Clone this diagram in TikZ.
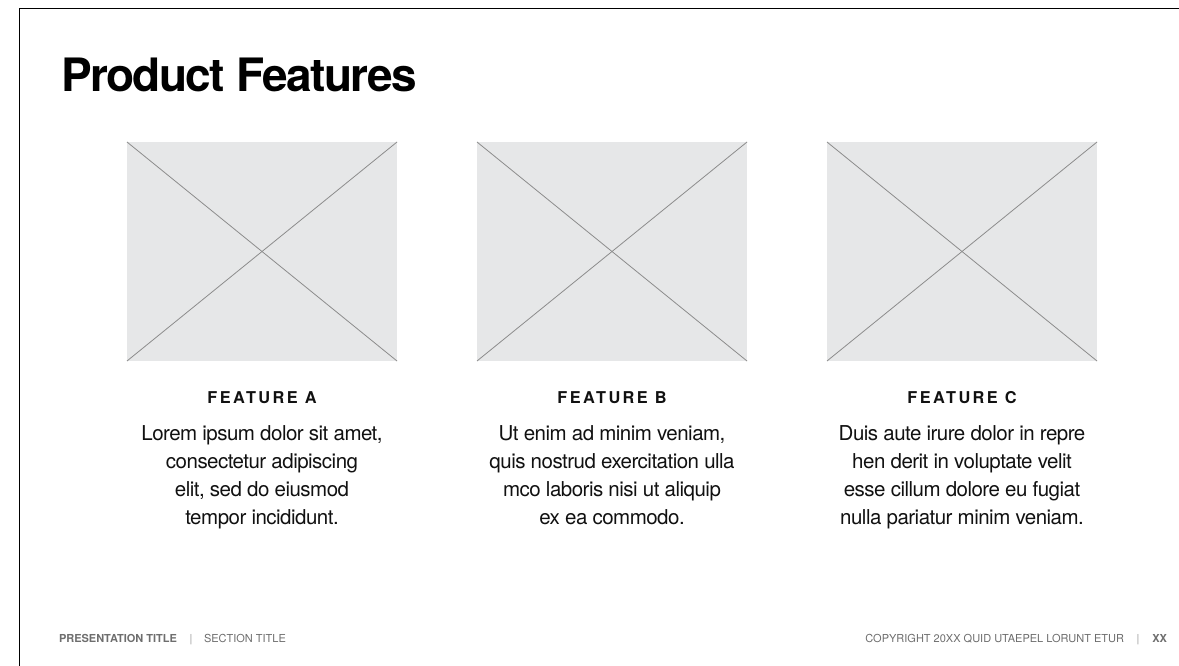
\documentclass[tikz,border=0pt]{standalone}
\usepackage{fontspec}
\setmainfont{TeX Gyre Heros}
\definecolor{phfill}{HTML}{E6E7E8}
\definecolor{crossgray}{HTML}{8C8C8C}
\definecolor{foot}{HTML}{6E6E6E}
\definecolor{sepgray}{HTML}{9A9A9A}
\definecolor{ink}{HTML}{111111}
\begin{document}
\begin{tikzpicture}[x=1pt,y=-1pt,
  every node/.style={inner sep=0pt, outer sep=0pt},
  placeholder/.style={fill=phfill, draw=none, minimum width=270pt, minimum height=219pt},
  cross/.style={draw=crossgray, line width=0.8pt},
  frameline/.style={draw=black, line width=1.6pt},
  heading/.style={anchor=base west, text=black, font=\fontsize{46}{50}\selectfont\bfseries\addfontfeature{LetterSpace=-3.5}},
  featlabel/.style={anchor=base, text=ink, font=\fontsize{16.3}{18}\selectfont\bfseries\addfontfeature{LetterSpace=15}},
  bodyline/.style={anchor=base, text=ink, font=\fontsize{20.5}{24}\selectfont\addfontfeature{LetterSpace=-2.5}},
  footbold/.style={text=foot, font=\fontsize{11}{13}\selectfont\bfseries},
  footreg/.style={text=foot, font=\fontsize{11}{13}\selectfont},
  footsep/.style={anchor=base, text=sepgray, font=\fontsize{11}{13}\selectfont}]
\useasboundingbox (0,0) rectangle (1179,666);
\fill[white] (0,0) rectangle (1179,666);

% outer frame (top and left edges)
\coordinate (fa) at (19.5,666);
\coordinate (fb) at (19.5,8.5);
\coordinate (fc) at (1179,8.5);
\draw[frameline] (fa) -- (fb) -- (fc);

% title
\node[heading] (title) at (61,92) {Product Features};

% image placeholders
\node[placeholder] (imgA) at (262,251.5) {};
\node[placeholder] (imgB) at (612,251.5) {};
\node[placeholder] (imgC) at (962,251.5) {};
\foreach \im in {imgA,imgB,imgC}{
  \draw[cross] (\im.north west) -- (\im.south east);
  \draw[cross] (\im.south west) -- (\im.north east);
}

% feature A
\node[featlabel] (labA) at (262,403) {FEATURE A};
\node[bodyline] (a1) at (262,440.5) {Lorem ipsum dolor sit amet,};
\node[bodyline] (a2) at (262,468.5) {consectetur adipiscing};
\node[bodyline] (a3) at (262,496.5) {elit, sed do eiusmod};
\node[bodyline] (a4) at (262,524.5) {tempor incididunt.};

% feature B
\node[featlabel] (labB) at (612,403) {FEATURE B};
\node[bodyline] (b1) at (612,440.5) {Ut enim ad minim veniam,};
\node[bodyline] (b2) at (612,468.5) {quis nostrud exercitation ulla};
\node[bodyline] (b3) at (612,496.5) {mco laboris nisi ut aliquip};
\node[bodyline] (b4) at (612,524.5) {ex ea commodo.};

% feature C
\node[featlabel] (labC) at (962,403) {FEATURE C};
\node[bodyline] (c1) at (962,440.5) {Duis aute irure dolor in repre};
\node[bodyline] (c2) at (962,468.5) {hen derit in voluptate velit};
\node[bodyline] (c3) at (962,496.5) {esse cillum dolore eu fugiat};
\node[bodyline] (c4) at (962,524.5) {nulla pariatur minim veniam.};

% footer, left
\node[footbold, anchor=base west] (ptitle) at (59,642) {PRESENTATION TITLE};
\node[footsep] (sepL) at (191,642) {|};
\node[footreg, anchor=base west] (stitle) at (204,642) {SECTION TITLE};

% footer, right
\node[footbold, anchor=base east] (pnum) at (1167,642) {XX};
\node[footsep] (sepR) at (1138,642) {|};
\node[footreg, anchor=base east] (copy) at (1124,642) {COPYRIGHT 20XX QUID UTAEPEL LORUNT ETUR};
\end{tikzpicture}
\end{document}
